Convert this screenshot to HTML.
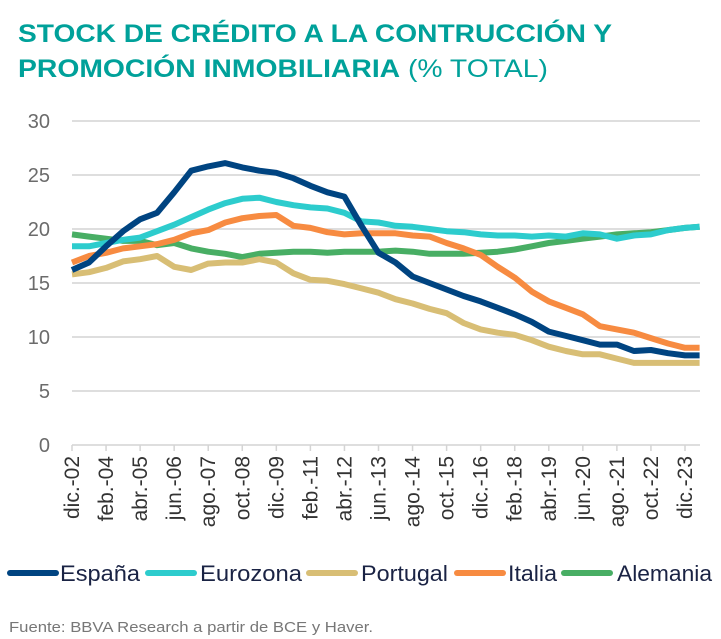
<!DOCTYPE html>
<html><head><meta charset="utf-8"><style>
html,body{margin:0;padding:0;background:#fff;}
svg{display:block;font-family:"Liberation Sans",sans-serif;}
</style></head><body>
<svg id="chart" width="721" height="639" viewBox="0 0 721 639">
<text x="18" y="42" font-size="25" font-weight="bold" fill="#00a19a" textLength="594" lengthAdjust="spacingAndGlyphs">STOCK DE CRÉDITO A LA CONTRUCCIÓN Y</text>
<text x="18" y="77" font-size="25" fill="#00a19a" textLength="530" lengthAdjust="spacingAndGlyphs"><tspan font-weight="bold">PROMOCIÓN INMOBILIARIA</tspan> (% TOTAL)</text>
<g id="grid"></g><g id="xaxis"></g><g id="series"></g>
<g id="legend"></g>
<text x="9" y="632" font-size="15" fill="#777" textLength="364" lengthAdjust="spacingAndGlyphs">Fuente: BBVA Research a partir de BCE y Haver.</text>
</svg>
<script>
const yTicks=[0,5,10,15,20,25,30];
const xLabels=["dic.-02","feb.-04","abr.-05","jun.-06","ago.-07","oct.-08","dic.-09","feb.-11","abr.-12","jun.-13","ago.-14","oct.-15","dic.-16","feb.-18","abr.-19","jun.-20","ago.-21","oct.-22","dic.-23"];
const months=[0,7,14,21,28,35,42,49,56,63,70,77,84,91,98,105,112,119,126,133,140,147,154,161,168,175,182,189,196,203,210,217,224,231,238,245,252,258];
const espana=[16.2,16.9,18.4,19.8,20.9,21.5,23.4,25.4,25.8,26.1,25.7,25.4,25.2,24.7,24.0,23.4,23.0,20.3,17.8,16.9,15.6,15.0,14.4,13.8,13.3,12.7,12.1,11.4,10.5,10.1,9.7,9.3,9.3,8.7,8.8,8.5,8.3,8.3];
const eurozona=[18.4,18.4,18.7,19.0,19.2,19.8,20.4,21.1,21.8,22.4,22.8,22.9,22.5,22.2,22.0,21.9,21.5,20.7,20.6,20.3,20.2,20.0,19.8,19.7,19.5,19.4,19.4,19.3,19.4,19.3,19.6,19.5,19.1,19.4,19.5,19.9,20.1,20.2];
const portugal=[15.8,16.0,16.4,17.0,17.2,17.5,16.5,16.2,16.8,16.9,16.9,17.2,16.9,15.9,15.3,15.2,14.9,14.5,14.1,13.5,13.1,12.6,12.2,11.3,10.7,10.4,10.2,9.7,9.1,8.7,8.4,8.4,8.0,7.6,7.6,7.6,7.6,7.6];
const italia=[16.9,17.5,17.8,18.2,18.4,18.6,19.0,19.6,19.9,20.6,21.0,21.2,21.3,20.3,20.1,19.7,19.5,19.6,19.6,19.6,19.4,19.3,18.7,18.2,17.6,16.5,15.5,14.2,13.3,12.7,12.1,11.0,10.7,10.4,9.9,9.4,9.0,9.0];
const alemania=[19.5,19.3,19.1,18.9,18.9,18.5,18.7,18.2,17.9,17.7,17.4,17.7,17.8,17.9,17.9,17.8,17.9,17.9,17.9,18.0,17.9,17.7,17.7,17.7,17.8,17.9,18.1,18.4,18.7,18.9,19.1,19.3,19.5,19.6,19.7,19.9,20.1,20.2];
const seriesNames=["España","Eurozona","Portugal","Italia","Alemania"];
const seriesColors=["#004481","#2dcccd","#d8be75","#f78b41","#48ae64"];
const seriesData=[espana,eurozona,portugal,italia,alemania];

const NS="http://www.w3.org/2000/svg";
const X0=72,PXM=613/252,Y0=445,PXU=324/30;
const xs=m=>X0+m*PXM, ys=v=>Y0-v*PXU;
function mk(t,a,p){const e=document.createElementNS(NS,t);for(const k in a)e.setAttribute(k,a[k]);p.appendChild(e);return e;}
const grid=document.getElementById('grid');
yTicks.forEach(v=>{
  const l=mk('line',{x1:72,x2:700,y1:ys(v),y2:ys(v),stroke:'#d4d4d4','stroke-width':1.5},grid);
  
  
  const t=mk('text',{x:50,y:ys(v)+7,'text-anchor':'end','font-size':20,fill:'#6b6b6b'},grid);
  t.textContent=v;
  
  
});
const xa=document.getElementById('xaxis');
xLabels.forEach((s,i)=>{
  const x=xs(i*14);
  const tk=mk('line',{x1:x,x2:x,y1:445,y2:451,stroke:'#d4d4d4','stroke-width':1.5},xa);
  
  
  const t=mk('text',{x:0,y:0,'text-anchor':'end','font-size':21,fill:'#333',transform:`translate(${x+7},456) rotate(-90)`},xa);
  t.textContent=s;
  
  
});
const sg=document.getElementById('series');
[4,1,2,3,0].forEach(i=>{
  const d=seriesData[i].map((v,j)=>(j?'L':'M')+xs(months[j]).toFixed(1)+','+ys(v).toFixed(1)).join('');
  const p=mk('path',{d,fill:'none',stroke:seriesColors[i],'stroke-width':6,'stroke-linejoin':'round'},sg);
  
  
});
const lg=document.getElementById('legend');
const lpos=[[8,60,80],[146,200,102],[307,361,87],[455,508,49],[562,617,95]];
seriesNames.forEach((n,i)=>{
  const [lx,tx,tw]=lpos[i];
  const g=mk('g',{},lg);
  
  
  mk('line',{x1:lx+2,x2:lx+48,y1:573,y2:573,stroke:seriesColors[i],'stroke-width':6,'stroke-linecap':'round'},g);
  const t=mk('text',{x:tx,y:581,'font-size':22,fill:'#1a2344',textLength:tw,lengthAdjust:'spacingAndGlyphs'},g);
  t.textContent=n;
});
</script>
</body></html>
